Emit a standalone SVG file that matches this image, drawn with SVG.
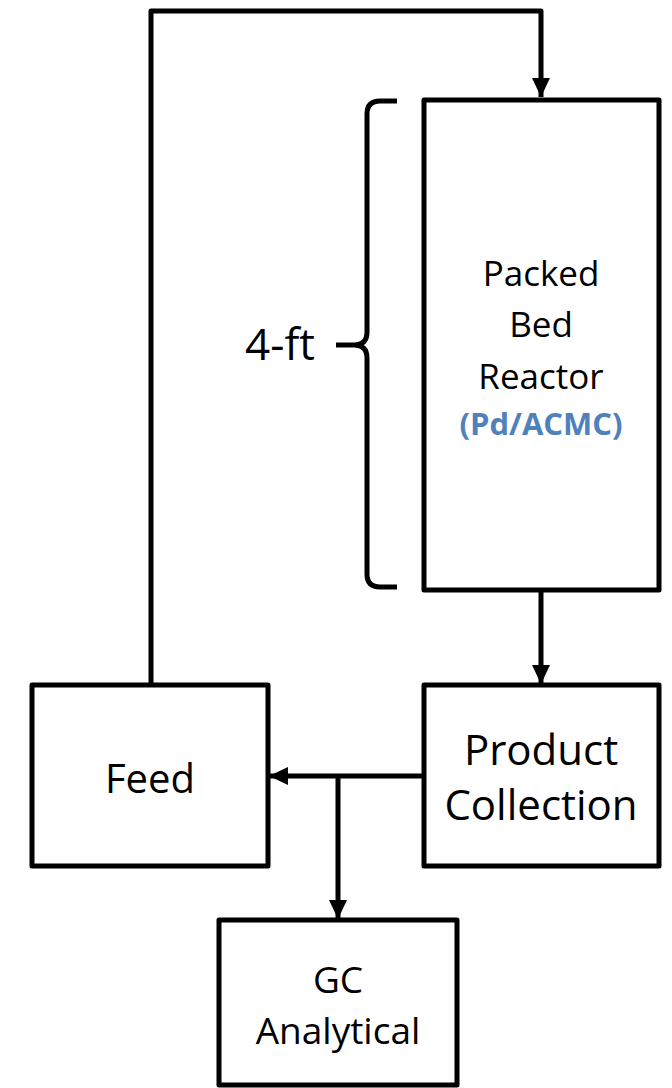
<svg xmlns="http://www.w3.org/2000/svg" width="672" height="1088" viewBox="0 0 672 1088">
<style>
.box{fill:#fff;stroke:#000;stroke-width:5;stroke-linejoin:round}
.ln{fill:none;stroke:#000;stroke-width:5;stroke-linejoin:round}
.t{font-family:"Open Sans","Liberation Sans",sans-serif;fill:#000;text-anchor:middle}
</style>
<defs>
<marker id="ah" markerUnits="userSpaceOnUse" markerWidth="20" markerHeight="20" viewBox="0 0 20 20" refX="19" refY="10" orient="auto">
<path d="M0,1 L19,10 L0,19 z" fill="#000"/>
</marker>
</defs>
<g id="connectors">
<polyline class="ln" points="151,685 151,11 541,11 541,97" marker-end="url(#ah)"/>
<line class="ln" x1="541" y1="592" x2="541" y2="684" marker-end="url(#ah)"/>
<line class="ln" x1="424" y1="776" x2="269" y2="776" marker-end="url(#ah)"/>
<line class="ln" x1="338" y1="776" x2="338" y2="919" marker-end="url(#ah)"/>
</g>
<g id="reactor">
<rect class="box" x="424" y="100" width="235" height="490"/>
<text class="t" x="541" y="286" font-size="35">Packed</text>
<text class="t" x="541" y="337" font-size="35">Bed</text>
<text class="t" x="541" y="389" font-size="35">Reactor</text>
<text class="t" x="541" y="435" font-size="31" font-weight="bold" style="fill:#4F81BD">(Pd/ACMC)</text>
</g>
<g id="brace">
<path class="ln" d="M397,101 L380,101 Q367,101 367,114 L367,332 Q367,345 354,345 L336,345 M354,345 Q367,345 367,358 L367,574 Q367,587 380,587 L397,587"/>
<text class="t" x="280" y="360" font-size="44">4-ft</text>
</g>
<g id="feed">
<rect class="box" x="32" y="685" width="236" height="181"/>
<text class="t" x="150" y="793" font-size="40">Feed</text>
</g>
<g id="product">
<rect class="box" x="424" y="685" width="235" height="181"/>
<text class="t" x="541" y="765" font-size="42">Product</text>
<text class="t" x="541" y="820" font-size="42">Collection</text>
</g>
<g id="gc">
<rect class="box" x="219" y="920" width="238" height="165"/>
<text class="t" x="338" y="993" font-size="37">GC</text>
<text class="t" x="338" y="1044" font-size="37">Analytical</text>
</g>
</svg>
